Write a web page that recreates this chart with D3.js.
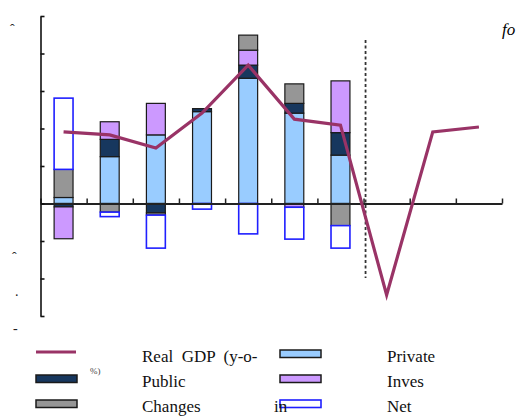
<html>
<head>
<meta charset="utf-8">
<style>
  body { margin: 0; background: white; }
  svg { display: block; }
</style>
</head>
<body>
<div id="chart"></div>
<script src="https://cdnjs.cloudflare.com/ajax/libs/d3/7.8.5/d3.min.js"></script>
<script>
// data (percentage points)
var categories = ["c1", "c2", "c3", "c4", "c5", "c6", "c7", "c8", "c9", "c10"];
var gdp        = [1.91, 1.83, 1.48, 2.41, 3.69, 2.25, 2.09, -2.44, 1.91, 2.04];
var privateC   = [0.16, 1.25, 1.83, 2.45, 3.34, 2.41, 1.29, 0, 0, 0];
var publicD    = [-0.09, 0.46, -0.25, 0.08, 0.35, 0.26, 0.60, 0, 0, 0];
var investment = [-0.85, 0.47, 0.84, 0, 0.40, -0.10, 1.38, 0, 0, 0];
var inventory  = [0.75, -0.23, -0.06, 0, 0.40, 0.52, -0.59, 0, 0, 0];
var netExports = [1.90, -0.12, -0.88, -0.15, -0.81, -0.85, -0.60, 0, 0, 0];
var yTicks = [-3, -2, -1, 0, 1, 2, 3, 4, 5];
var forecastFrom = 7;

var keys = ["private", "public", "investment", "inventory", "net"];
var colors = {private: "#99ccff", public: "#17375e", investment: "#cc99ff", inventory: "#969696", net: "#ffffff"};
var serif = "Times New Roman, Times, Liberation Serif, serif";

var rows = categories.map(function(c, i) {
  return {cat: c, private: privateC[i], public: publicD[i], investment: investment[i], inventory: inventory[i], net: netExports[i]};
});

var W = 518, H = 416;
var svg = d3.select("#chart").append("svg").attr("width", W).attr("height", H);

var x = d3.scaleBand().domain(categories).range([40.5, 502]).paddingInner(0.59).paddingOuter(0.295);
var xb = d3.scaleLinear().domain([0, categories.length]).range([40.5, 502]);
var y = d3.scaleLinear().domain([-3, 5]).range([316, 16]);

var series = d3.stack().keys(keys).offset(d3.stackOffsetDiverging)(rows);

// bars
var g = svg.append("g");
series.forEach(function(s) {
  var isNet = s.key == "net";
  g.selectAll(null)
    .data(s.filter(function(d) { return d[1] - d[0] != 0; }))
    .enter().append("rect")
    .attr("x", function(d) { return x(d.data.cat); })
    .attr("width", x.bandwidth())
    .attr("y", function(d) { return y(Math.max(d[0], d[1])); })
    .attr("height", function(d) { return Math.abs(y(d[0]) - y(d[1])); })
    .attr("fill", colors[s.key])
    .attr("stroke", isNet ? "#1f1fff" : "#1a1a1a")
    .attr("stroke-width", isNet ? 1.6 : 1.2);
});

// x axis at zero, ticks upward at category boundaries
svg.append("g")
  .attr("transform", "translate(0," + y(0) + ")")
  .call(d3.axisBottom(xb).tickValues(d3.range(0, categories.length + 1)).tickSize(-5).tickSizeOuter(0).tickFormat(""))
  .call(function(a) {
    a.select(".domain").attr("stroke", "#222").attr("stroke-width", 2);
    a.selectAll(".tick line").attr("stroke", "#222").attr("stroke-width", 1.5);
  });

// y axis
svg.append("g")
  .attr("transform", "translate(40.5,0)")
  .call(d3.axisLeft(y).tickValues(yTicks).tickSize(-4).tickSizeOuter(0).tickFormat(""))
  .call(function(a) {
    a.select(".domain").attr("stroke", "#111").attr("stroke-width", 1.6);
    a.selectAll(".tick line").attr("stroke", "#111").attr("stroke-width", 1.6);
  });

// forecast divider
svg.append("line")
  .attr("x1", xb(forecastFrom) + 2).attr("x2", xb(forecastFrom) + 2)
  .attr("y1", 40).attr("y2", 278)
  .attr("stroke", "#333").attr("stroke-width", 1.8).attr("stroke-dasharray", "3,2.5");

// GDP line
svg.append("path")
  .datum(gdp)
  .attr("fill", "none")
  .attr("stroke", "#993366")
  .attr("stroke-width", 3.2)
  .attr("stroke-linejoin", "miter")
  .attr("d", d3.line()
    .x(function(d, i) { return x(categories[i]) + x.bandwidth() / 2; })
    .y(function(d) { return y(d); }));

// broken label fragments as they appear
var frags = [[10, 34, "ˆ"], [12, 262, "ˆ"], [15, 296, "."], [13, 333, "-"]];
svg.selectAll(".frag").data(frags).enter().append("text")
  .attr("x", function(d) { return d[0]; }).attr("y", function(d) { return d[1]; })
  .style("font-family", serif)
  .attr("font-size", 14).attr("fill", "#222").text(function(d) { return d[2]; });

svg.append("text").attr("x", 502).attr("y", 35)
  .style("font-family", serif)
  .attr("font-size", 17).attr("font-style", "italic").text("fo");

// legend
var legend = [
  {type: "line", color: "#993366", label: "Real  GDP  (y-o-", col: 0, row: 0},
  {type: "rect", key: "private", label: "Private", col: 1, row: 0},
  {type: "rect", key: "public", label: "Public", col: 0, row: 1},
  {type: "rect", key: "investment", label: "Inves", col: 1, row: 1},
  {type: "rect", key: "inventory", label: "Changes", col: 0, row: 2},
  {type: "rect", key: "net", label: "Net", col: 1, row: 2}
];
var swX = [36, 280], txX = [142, 387], rowY = [362, 387, 412];
legend.forEach(function(l) {
  var sx = swX[l.col], ty = rowY[l.row];
  if (l.type == "line") {
    svg.append("line").attr("x1", sx).attr("x2", sx + 40).attr("y1", ty - 10).attr("y2", ty - 10)
      .attr("stroke", l.color).attr("stroke-width", 3);
  } else {
    svg.append("rect").attr("x", sx).attr("y", ty - 12).attr("width", 41).attr("height", 7.5)
      .attr("fill", colors[l.key])
      .attr("stroke", l.key == "net" ? "#1f1fff" : "#1a1a1a")
      .attr("stroke-width", l.key == "net" ? 1.6 : 1.5);
  }
  svg.append("text").attr("x", txX[l.col]).attr("y", ty)
    .style("font-family", serif)
    .attr("font-size", 17).attr("fill", "#111")
    .style("white-space", "pre").text(l.label);
});
svg.append("text").attr("x", 274).attr("y", 412).style("font-family", serif)
  .attr("font-size", 17).attr("fill", "#111").text("in");
svg.append("text").attr("x", 90).attr("y", 374).style("font-family", serif)
  .attr("font-size", 9).attr("fill", "#444").text("%)");
</script>
</body>
</html>
